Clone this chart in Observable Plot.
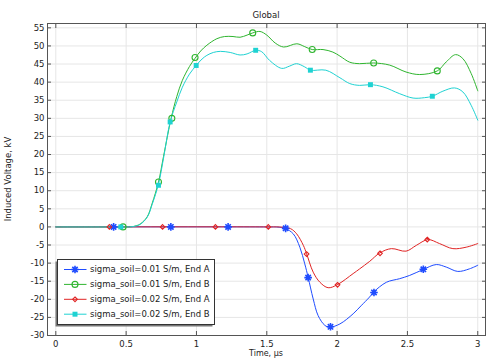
<!DOCTYPE html>
<html><head><meta charset="utf-8">
<script src="https://cdn.jsdelivr.net/npm/d3@7"></script>
<script src="https://cdn.jsdelivr.net/npm/@observablehq/plot@0.6"></script>
<style>
body{margin:0;background:#fff}
#chart{position:relative;width:491px;height:359px}
</style>
</head><body><div id="chart"></div>
<script>
// ---- tick values ----
const xTicks = [0, 0.5, 1, 1.5, 2, 2.5, 3];
const yTicks = [-30, -25, -20, -15, -10, -5, 0, 5, 10, 15, 20, 25, 30, 35, 40, 45, 50, 55];

// ---- series names ----
const seriesNames = [
  "sigma_soil=0.01 S/m, End A",
  "sigma_soil=0.01 S/m, End B",
  "sigma_soil=0.02 S/m, End A",
  "sigma_soil=0.02 S/m, End B"
];

// ---- sigma 0.01, End A (blue) ----
const aX = [0, 1.5, 1.58, 1.63, 1.688, 1.735, 1.77, 1.794, 1.83, 1.865, 1.913, 1.948, 2.02, 2.114, 2.17, 2.23, 2.26, 2.35, 2.445, 2.516, 2.61, 2.705, 2.776, 2.858, 2.94, 3.0];
const aY = [0, 0, -0.05, -0.4, -1.9, -5.6, -10.2, -13.9, -19.9, -24.5, -27.2, -27.7, -26.8, -24, -21.8, -19.4, -18, -15.3, -14.3, -13.4, -11.8, -10.4, -11.1, -12.3, -11.6, -10.6];
const aMx = [0.411, 0.818, 1.225, 1.634, 1.794, 1.953, 2.262, 2.613];
const aMy = [0, 0, 0, -0.4, -14, -27.6, -18.1, -11.7];

// ---- sigma 0.01, End B (green) ----
const bX = [0, 0.45, 0.5, 0.55, 0.6, 0.65, 0.685, 0.73, 0.766, 0.82, 0.86, 0.9, 0.95, 0.99, 1.03, 1.074, 1.145, 1.2, 1.26, 1.31, 1.36, 1.40, 1.452, 1.5, 1.56, 1.62, 1.714, 1.77, 1.823, 1.90, 1.97, 2.02, 2.09, 2.16, 2.26, 2.374, 2.49, 2.587, 2.712, 2.776, 2.842, 2.894, 2.953, 3.0];
const bY = [0, 0, 0, 0.1, 0.8, 2.8, 6.5, 12.4, 19.5, 30, 36, 40.5, 44.3, 46.6, 48.6, 50.2, 52, 52.6, 52.6, 52.4, 53, 53.6, 54, 53, 50.8, 49.7, 50.6, 49.8, 49, 49, 48.3, 47.2, 45.5, 45.1, 45.3, 44.7, 42.8, 42.1, 43.1, 45.6, 47.6, 46.5, 42.4, 37.6];
const bMx = [0.478, 0.73, 0.825, 0.99, 1.40, 1.823, 2.26, 2.712];
const bMy = [0, 12.4, 30, 46.8, 53.6, 49, 45.3, 43.1];

// ---- sigma 0.02, End A (red) ----
const cX = [0, 1.5, 1.6, 1.67, 1.712, 1.76, 1.783, 1.83, 1.878, 1.936, 2.0, 2.114, 2.16, 2.232, 2.303, 2.386, 2.49, 2.563, 2.646, 2.728, 2.823, 2.918, 3.0];
const cY = [0, 0, -0.05, -0.5, -1.9, -5.1, -7.4, -12.5, -15.3, -16.8, -16, -12.9, -11.6, -9.5, -7.2, -6, -6.7, -5.1, -3.5, -4.6, -6, -5.6, -4.6];
const cMx = [0.381, 0.759, 1.135, 1.511, 1.783, 2.003, 2.305, 2.641];
const cMy = [0, 0, 0, 0, -7.5, -16, -7.3, -3.5];

// ---- sigma 0.02, End B (cyan) ----
const dX = [0, 0.45, 0.5, 0.55, 0.6, 0.65, 0.685, 0.73, 0.766, 0.813, 0.86, 0.9, 0.95, 0.998, 1.04, 1.074, 1.12, 1.17, 1.24, 1.31, 1.36, 1.421, 1.464, 1.52, 1.606, 1.66, 1.712, 1.77, 1.81, 1.92, 2.02, 2.09, 2.16, 2.237, 2.326, 2.445, 2.54, 2.62, 2.677, 2.752, 2.835, 2.894, 2.953, 3.0];
const dY = [0, 0, 0, 0.1, 0.7, 2.7, 6.2, 11.8, 19, 29, 34.5, 38.6, 42.2, 44.6, 46.4, 47.4, 48.2, 48.5, 48.2, 47.5, 47.8, 48.8, 48.4, 46, 43.8, 44.4, 45.1, 44.2, 43.3, 43.3, 41.2, 39.6, 39.1, 39.3, 38.7, 36.8, 35.6, 35.7, 36.1, 37.5, 38.4, 37.3, 33.6, 29.5];
const dMx = [0.462, 0.73, 0.813, 0.998, 1.421, 1.81, 2.237, 2.677];
const dMy = [0, 11.5, 29, 44.6, 48.8, 43.3, 39.3, 36.1];

const colors = ["#1f4cff", "#2fb52f", "#e02424", "#1fd2d2"];

// 8-arm asterisk symbol
const asterisk8 = {
  draw(ctx, size) {
    const r = Math.sqrt(size / Math.PI);
    for (let k = 0; k < 4; k++) {
      const a = k * Math.PI / 4;
      ctx.moveTo(-r * Math.cos(a), -r * Math.sin(a));
      ctx.lineTo(r * Math.cos(a), r * Math.sin(a));
    }
  }
};

const zip = (xs, ys) => xs.map((x, i) => ({x, y: ys[i]}));
const lines = [zip(aX, aY), zip(bX, bY), zip(cX, cY), zip(dX, dY)];
const marks = [zip(aMx, aMy), zip(bMx, bMy), zip(cMx, cMy), zip(dMx, dMy)];

const markerStyles = [
  {symbol: asterisk8, r: 3.8, stroke: colors[0], fill: "none", strokeWidth: 1.6},
  {symbol: "circle", r: 3, stroke: colors[1], fill: "none", strokeWidth: 1.1},
  {symbol: "diamond2", r: 2.1, stroke: colors[2], fill: "none", strokeWidth: 1.1},
  {symbol: "square", r: 2.8, fill: colors[3], stroke: "none"}
];

const W = 491, H = 359;
const chart = Plot.plot({
  width: W, height: H,
  marginLeft: 47, marginRight: 6, marginTop: 23, marginBottom: 24,
  style: {fontFamily: "DejaVu Sans, sans-serif", fontSize: "8.5px", color: "#222", background: "#fff"},
  x: {domain: [-0.059, 3.055], ticks: xTicks, label: null},
  y: {domain: [-30, 56.2], ticks: yTicks, label: null},
  marks: [
    Plot.gridX(xTicks, {stroke: "#e6e6e6", strokeOpacity: 1}),
    Plot.gridY(yTicks, {stroke: "#e6e6e6", strokeOpacity: 1}),
    ...lines.map((data, i) => Plot.line(data, {x: "x", y: "y", stroke: colors[i], strokeWidth: 1, curve: "catmull-rom"})),
    ...marks.map((data, i) => Plot.dot(data, {x: "x", y: "y", ...markerStyles[i]})),
    Plot.frame({stroke: "#555", strokeWidth: 1}),
    Plot.axisX(xTicks, {anchor: "bottom", tickSize: -4, tickPadding: 9, stroke: "#555", label: null, fill: "#222", tickFormat: d => String(d)}),
    Plot.axisX(xTicks, {anchor: "top", tickSize: -4, stroke: "#555", label: null, tickFormat: () => ""}),
    Plot.axisY(yTicks, {anchor: "left", tickSize: -4, tickPadding: 7, stroke: "#555", label: null, fill: "#222", tickFormat: d => String(d)}),
    Plot.axisY(yTicks, {anchor: "right", tickSize: -4, stroke: "#555", label: null, tickFormat: () => ""})
  ]
});
document.getElementById("chart").appendChild(chart);

// ---- titles and axis labels ----
const svg = d3.select(chart);
const fx = 47, fr = W - 6, ft = 23, fb = H - 24;
svg.append("text").attr("x", (fx + fr) / 2).attr("y", 18).attr("text-anchor", "middle")
  .attr("fill", "#222").style("font-size", "8.5px").text("Global");
svg.append("text").attr("x", (fx + fr) / 2).attr("y", 355.5).attr("text-anchor", "middle")
  .attr("fill", "#222").style("font-size", "8px").text("Time, µs");
svg.append("text").attr("transform", `translate(11,${(ft + fb) / 2}) rotate(-90)`).attr("text-anchor", "middle")
  .attr("fill", "#222").style("font-size", "8.5px").text("Induced Voltage, kV");

// ---- legend ----
const lg = svg.append("g").attr("transform", "translate(57.5,259.5)");
const lw = 157, lh = 65;
lg.append("rect").attr("x", -2).attr("y", 2).attr("width", lw).attr("height", lh).attr("fill", "#777");
lg.append("rect").attr("x", 0).attr("y", 0).attr("width", lw).attr("height", lh).attr("fill", "#fff").attr("stroke", "#333").attr("stroke-width", 1);
const symTypes = [asterisk8, d3.symbolCircle, d3.symbolDiamond2, d3.symbolSquare];
seriesNames.forEach((name, i) => {
  const yy = 10 + i * 14.9;
  const g = lg.append("g").attr("transform", `translate(0,${yy})`);
  g.append("line").attr("x1", 6.5).attr("x2", 29).attr("y1", 0).attr("y2", 0).attr("stroke", colors[i]).attr("stroke-width", 1);
  const ms = markerStyles[i];
  g.append("path").attr("transform", "translate(17.5,0)")
    .attr("d", d3.symbol().type(symTypes[i]).size(ms.r * ms.r * Math.PI)())
    .attr("fill", ms.fill).attr("stroke", ms.stroke).attr("stroke-width", ms.strokeWidth || 1);
  g.append("text").attr("x", 32.5).attr("y", 0).attr("dy", "0.35em").attr("text-anchor", "start")
    .attr("fill", "#222").style("font-size", "8.5px").text(name);
});
</script>
</body></html>
